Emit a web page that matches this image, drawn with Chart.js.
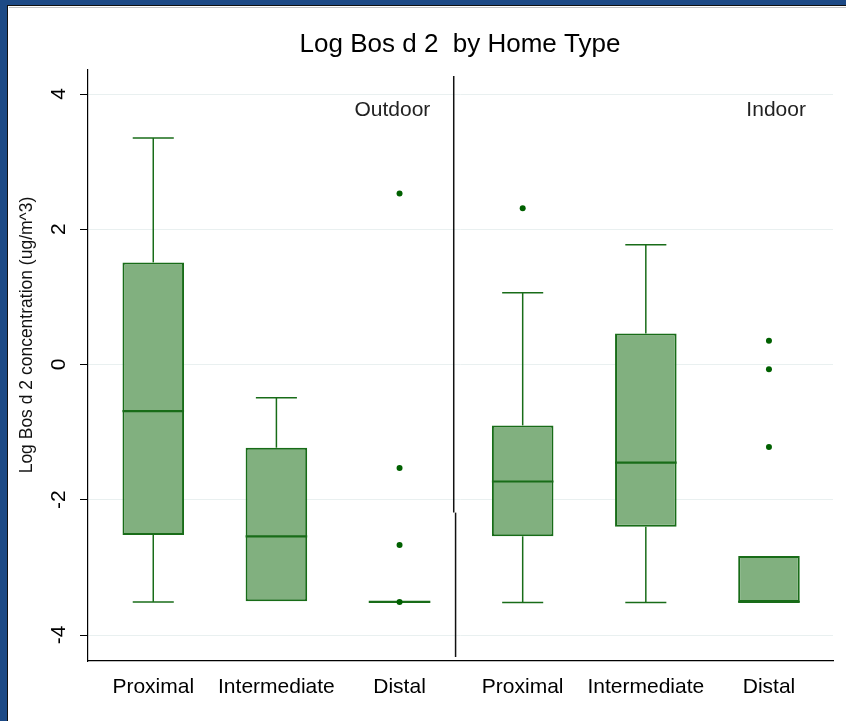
<!DOCTYPE html>
<html>
<head>
<meta charset="utf-8">
<title>Log Bos d 2 by Home Type</title>
<script src="https://cdn.jsdelivr.net/npm/chart.js@4/dist/chart.umd.min.js"></script>
<style>
  html, body { margin: 0; padding: 0; background: #fff; }
  #wrap { position: relative; width: 846px; height: 721px; overflow: hidden; background: #fff; }
  #wrap canvas { position: absolute; left: 0; top: 0; }
  .edge { position: absolute; }
</style>
</head>
<body>
<div id="wrap">
  <canvas id="chart" width="846" height="721"></canvas>
  <div class="edge" style="left:0;top:0;width:846px;height:5px;background:#1d4a86"></div>
  <div class="edge" style="left:0;top:5px;width:846px;height:1px;background:#111"></div>
  <div class="edge" style="left:9px;top:7px;width:837px;height:1px;background:#c4c4c4"></div>
  <div class="edge" style="left:0;top:0;width:7px;height:721px;background:#1d4a86"></div>
  <div class="edge" style="left:7px;top:5px;width:1px;height:716px;background:#111"></div>
</div>
<script>
// Box-plot summaries for each home type, outdoor group first, then indoor
const categories  = ['Proximal', 'Intermediate', 'Distal', 'Proximal', 'Intermediate', 'Distal'];
const panels      = ['Outdoor', 'Indoor'];
const whiskerLow  = [-3.51, -3.50, -3.51, -3.52, -3.52, -3.51];
const q1          = [-2.52, -3.50, -3.51, -2.54, -2.40, -3.51];
const median      = [-0.69, -2.54, -3.51, -1.73, -1.45, -3.51];
const q3          = [ 1.51, -1.23, -3.51, -0.90,  0.46, -2.83];
const whiskerHigh = [ 3.35, -0.49, -3.51,  1.06,  1.77, -2.83];

// Outside values: position of the box they belong to (1-based) and the value
const outlierBox   = [3, 3, 3, 3, 4, 6, 6, 6];
const outlierValue = [2.53, -1.53, -2.67, -3.51, 2.31, 0.35, -0.07, -1.22];

const yTicks = [-4, -2, 0, 2, 4];

const FONT = "'Liberation Sans', Arial, sans-serif";
const BOX_FILL = 'rgb(129,176,127)';
const BOX_LINE = 'rgb(24,108,24)';
const DOT = 'rgb(0,96,0)';

// Whiskers, caps and median lines, drawn right after the boxes
const boxParts = {
  id: 'boxParts',
  afterDatasetDraw(chart, args) {
    if (args.index !== 0) return;
    const { ctx, scales: { x, y } } = chart;
    const seg = (x1, y1, x2, y2) => { ctx.beginPath(); ctx.moveTo(x1, y1); ctx.lineTo(x2, y2); ctx.stroke(); };
    ctx.save();
    ctx.strokeStyle = BOX_LINE;
    args.meta.data.forEach((bar, i) => {
      const cx = x.getPixelForValue(i + 1);
      const half = bar.width / 2;
      const cap = bar.width / 3;
      ctx.lineWidth = 1.5;
      if (whiskerHigh[i] !== q3[i]) {
        const yt = y.getPixelForValue(whiskerHigh[i]);
        seg(cx, y.getPixelForValue(q3[i]), cx, yt);
        seg(cx - cap, yt, cx + cap, yt);
      }
      if (whiskerLow[i] !== q1[i]) {
        const yb = y.getPixelForValue(whiskerLow[i]);
        seg(cx, y.getPixelForValue(q1[i]), cx, yb);
        seg(cx - cap, yb, cx + cap, yb);
      }
      ctx.lineWidth = 2.2;
      const ym = y.getPixelForValue(median[i]);
      seg(cx - half, ym, cx + half, ym);
    });
    ctx.restore();
  }
};

// Title, panel names, y-axis title and the divider between the two groups
const decorations = {
  id: 'decorations',
  afterDraw(chart) {
    const { ctx, chartArea: area, scales: { x, y } } = chart;
    ctx.save();
    ctx.fillStyle = '#000';
    ctx.font = `26px ${FONT}`;
    ctx.textAlign = 'center';
    ctx.textBaseline = 'alphabetic';
    ctx.fillText('Log Bos d 2  by Home Type', 460, 52);

    ctx.font = `21px ${FONT}`;
    ctx.fillStyle = '#222';
    ctx.textAlign = 'right';
    ctx.textBaseline = 'middle';
    ctx.fillText(panels[0], x.getPixelForValue(3.25), 110);
    ctx.fillText(panels[1], x.getPixelForValue(6.3), 110);

    ctx.save();
    ctx.translate(27, 335);
    ctx.rotate(-Math.PI / 2);
    ctx.textAlign = 'center';
    ctx.fillStyle = '#111';
    ctx.font = `17.5px ${FONT}`;
    ctx.fillText('Log Bos d 2 concentration (ug/m^3)', 0, 0);
    ctx.restore();

    ctx.strokeStyle = '#111';
    ctx.lineWidth = 1.5;
    const yBreak = y.getPixelForValue(-2.19);
    let xd = x.getPixelForValue(3.44);
    ctx.beginPath(); ctx.moveTo(xd, area.top + 6); ctx.lineTo(xd, yBreak); ctx.stroke();
    xd = x.getPixelForValue(3.455);
    ctx.beginPath(); ctx.moveTo(xd, yBreak); ctx.lineTo(xd, area.bottom - 4); ctx.stroke();
    ctx.restore();
  }
};

new Chart(document.getElementById('chart'), {
  type: 'bar',
  data: {
    datasets: [
      {
        type: 'bar',
        order: 2,
        data: categories.map((c, i) => ({ x: i + 1, y: [q1[i], q3[i]] })),
        backgroundColor: BOX_FILL,
        borderColor: BOX_LINE,
        borderWidth: 2,
        borderSkipped: false,
        barPercentage: 0.5,
        categoryPercentage: 1
      },
      {
        type: 'scatter',
        order: 1,
        data: outlierBox.map((b, i) => ({ x: b, y: outlierValue[i] })),
        pointRadius: 3,
        pointBackgroundColor: DOT,
        pointBorderWidth: 0
      }
    ]
  },
  options: {
    responsive: false,
    animation: false,
    devicePixelRatio: 1,
    layout: { padding: { top: 70, right: 13, left: 0, bottom: 0 } },
    plugins: { legend: { display: false }, tooltip: { enabled: false }, title: { display: false } },
    scales: {
      x: {
        type: 'linear',
        offset: false,
        min: 0.47,
        max: 6.52,
        afterBuildTicks: s => { s.ticks = categories.map((c, i) => ({ value: i + 1 })); },
        afterFit: s => { s.height = 60; },
        grid: { drawOnChartArea: false, drawTicks: false, offset: false },
        border: { color: '#000', width: 1.2 },
        ticks: {
          callback: (v, i) => categories[i],
          color: '#000',
          font: { family: FONT, size: 21 },
          padding: 14,
          maxRotation: 0,
          autoSkip: false
        }
      },
      y: {
        min: -4.384,
        max: 4.355,
        afterBuildTicks: s => { s.ticks = yTicks.map(v => ({ value: v })); },
        afterFit: s => { s.width = 88; },
        grid: { color: '#e9f0f0', lineWidth: 1, tickColor: '#000', tickLength: 8 },
        border: { color: '#000', width: 1.2 },
        ticks: {
          color: '#000',
          font: { family: FONT, size: 21 },
          minRotation: 90,
          maxRotation: 90,
          crossAlign: 'center',
          padding: 11
        }
      }
    }
  },
  plugins: [boxParts, decorations]
});
</script>
</body>
</html>
